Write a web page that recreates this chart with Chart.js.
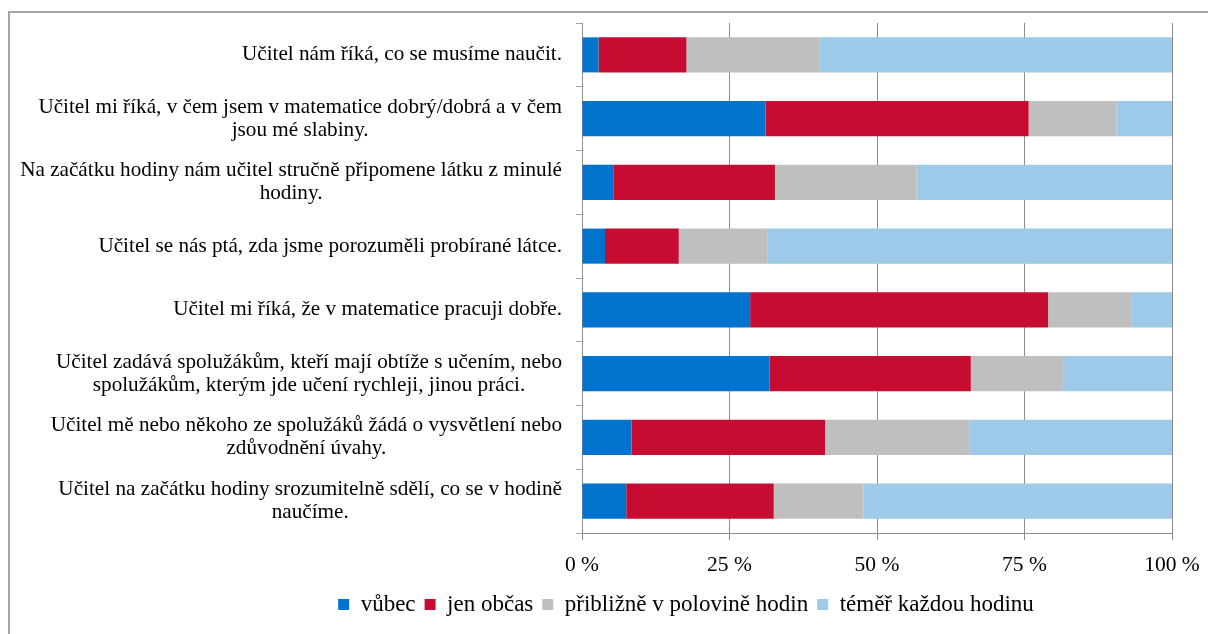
<!DOCTYPE html>
<html lang="cs">
<head>
<meta charset="utf-8">
<title>Výuka matematiky</title>
<script src="https://cdn.jsdelivr.net/npm/chart.js@4.4.0/dist/chart.umd.min.js"></script>
<style>
  html, body { margin: 0; padding: 0; background: #fff; }
  #obal { position: relative; width: 1208px; height: 634px; overflow: hidden; }
  #ramecek {
    position: absolute; left: 8px; top: 11px; width: 1400px; height: 800px;
    border-top: 2px solid #a6a6a6; border-left: 2px solid #a6a6a6;
  }
  #graf { position: absolute; left: 0; top: 0; }
</style>
</head>
<body>
<div id="obal">
  <div id="ramecek"></div>
  <canvas id="graf" width="1208" height="634"></canvas>
</div>
<script>
// ====== DATA ======
const otazky = [
  ['Učitel nám říká, co se musíme naučit.'],
  ['Učitel mi říká, v čem jsem v matematice dobrý/dobrá a v čem', 'jsou mé slabiny.'],
  ['Na začátku hodiny nám učitel stručně připomene látku z minulé', 'hodiny.'],
  ['Učitel se nás ptá, zda jsme porozuměli probírané látce.'],
  ['Učitel mi říká, že v matematice pracuji dobře.'],
  ['Učitel zadává spolužákům, kteří mají obtíže s učením, nebo', 'spolužákům, kterým jde učení rychleji, jinou práci.'],
  ['Učitel mě nebo někoho ze spolužáků žádá o vysvětlení nebo', 'zdůvodnění úvahy.'],
  ['Učitel na začátku hodiny srozumitelně sdělí, co se v hodině', 'naučíme.'],
];

const vubec      = [2.8, 31.1, 5.3, 3.9, 28.5, 31.8, 8.4, 7.5];
const jenObcas   = [14.9, 44.6, 27.4, 12.5, 50.5, 34.1, 32.8, 25.0];
const vPolovine  = [22.6, 14.9, 24.0, 15.0, 14.2, 15.6, 24.5, 15.2];
const kazdouHod  = [59.7, 9.4, 43.3, 68.6, 6.8, 18.5, 34.3, 52.3];

const nazvyRad = ['vůbec', 'jen občas', 'přibližně v polovině hodin', 'téměř každou hodinu'];
const barvy = ['#0073cf', '#c60c30', '#bfbfbf', '#9dcae8'];
const ticksX = [0, 25, 50, 75, 100];

// ====== NASTAVENÍ ======
const PISMO = '"Liberation Serif", "Times New Roman", serif';
const VELIKOST = 21.2;
const VYSKA_RADKU = 23;
const MRIZKA = '#8c8c8c';

// popisky otázek: blok zarovnaný vpravo, řádky uvnitř na střed
const popiskyOtazek = {
  id: 'popiskyOtazek',
  afterDraw(chart) {
    const osa = chart.scales.y;
    const c = chart.ctx;
    c.save();
    c.font = `${VELIKOST}px ${PISMO}`;
    c.fillStyle = '#000';
    c.textAlign = 'center';
    c.textBaseline = 'middle';
    const pravyOkraj = osa.right - 20;
    otazky.forEach((radky, i) => {
      const y = osa.getPixelForTick(i);
      const sirka = Math.max(...radky.map(r => c.measureText(r).width));
      const x = pravyOkraj - sirka / 2;
      const prvni = y - (radky.length - 1) * VYSKA_RADKU / 2;
      radky.forEach((r, j) => c.fillText(r, x, prvni + j * VYSKA_RADKU));
    });
    c.restore();
  }
};

const rady = [vubec, jenObcas, vPolovine, kazdouHod];

// ====== GRAF ======
const ctx = document.getElementById('graf').getContext('2d');
const chart = new Chart(ctx, {
  type: 'bar',
  data: {
    labels: otazky.map(r => r.join(' ')),
    datasets: rady.map((data, i) => ({
      label: nazvyRad[i],
      data,
      backgroundColor: barvy[i],
      borderWidth: 0,
      barPercentage: 0.55,
      categoryPercentage: 1.0,
    })),
  },
  options: {
    indexAxis: 'y',
    responsive: false,
    animation: false,
    layout: { padding: { left: 200, right: 36, top: 23, bottom: 8 } },
    scales: {
      x: {
        stacked: true,
        min: 0,
        max: 100,
        afterBuildTicks: scale => { scale.ticks = ticksX.map(v => ({ value: v })); },
        afterFit: scale => {
          scale.height = 51;
          // popisek "100 %" smí přesahovat do okraje
          scale.paddingLeft = 0;
          scale.paddingRight = 0;
        },
        ticks: {
          color: '#000',
          font: { family: PISMO, size: 21.5 },
          padding: 12,
          maxRotation: 0,
          callback: v => `${v} %`,
        },
        grid: { color: MRIZKA, tickLength: 7, lineWidth: 1 },
        border: { color: MRIZKA },
      },
      y: {
        stacked: true,
        afterFit: scale => { scale.width = 382; },
        ticks: { display: false },
        grid: { drawOnChartArea: false, color: '#a6a6a6', tickLength: 6 },
        border: { color: MRIZKA },
      },
    },
    plugins: {
      tooltip: { enabled: false },
      legend: {
        position: 'bottom',
        labels: {
          color: '#000',
          boxWidth: 11,
          boxHeight: 11,
          padding: 9,
          font: { family: PISMO, size: 23 },
        },
      },
    },
  },
  plugins: [popiskyOtazek],
});
</script>
</body>
</html>
